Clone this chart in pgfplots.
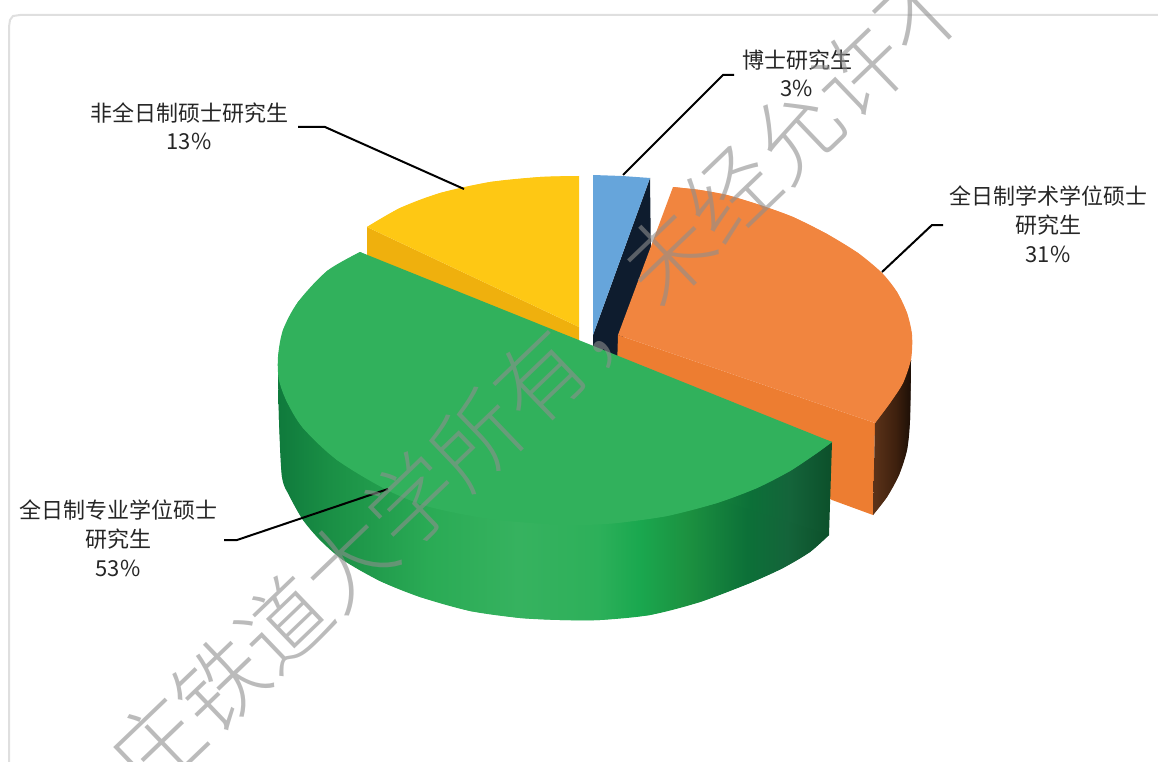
\documentclass[border=0pt]{standalone}
\usepackage{pgfplots}
\pgfplotsset{compat=1.18}
\usepackage{fontspec}
\setmainfont{Noto Sans CJK SC}
\newfontfamily\wm{Noto Sans CJK SC Light}
\definecolor{lbl}{HTML}{262626}
\definecolor{gtop}{HTML}{31B15C}
\definecolor{ytop}{HTML}{FEC814}
\definecolor{yside}{HTML}{EFB00D}
\definecolor{otop}{HTML}{F1853F}
\definecolor{oside}{HTML}{ED7D31}
\definecolor{btop}{HTML}{66A5DB}
\definecolor{bside}{HTML}{0E1C2E}
\definecolor{frame}{HTML}{DFDFDF}
\definecolor{wmc}{HTML}{8E8E8E}
\definecolor{ga}{HTML}{0F7A3C}
\definecolor{gb}{HTML}{1A8F45}
\definecolor{gc}{HTML}{2AAB55}
\definecolor{gd}{HTML}{36B25F}
\definecolor{ge}{HTML}{2DB05A}
\definecolor{gf}{HTML}{1AA84F}
\definecolor{gg}{HTML}{1C9140}
\definecolor{gh}{HTML}{0C7038}
\definecolor{gi}{HTML}{14643A}
\definecolor{gj}{HTML}{0C4F2A}
\definecolor{ba}{HTML}{5C3319}
\definecolor{bb}{HTML}{3E200E}
\definecolor{bc}{HTML}{1C0F06}
\pgfdeclarehorizontalshading{greenside}{100bp}{
 color(0bp)=(ga);
 color(25bp)=(ga);
 color(29.7bp)=(gb);
 color(38.7bp)=(gc);
 color(46.8bp)=(gd);
 color(54bp)=(ge);
 color(57.7bp)=(gf);
 color(62.2bp)=(gg);
 color(67.6bp)=(gh);
 color(71.2bp)=(gi);
 color(75bp)=(gj);
 color(100bp)=(gj)}
\pgfdeclarehorizontalshading{brownside}{100bp}{
 color(0bp)=(ba);
 color(25bp)=(ba);
 color(55bp)=(bb);
 color(75bp)=(bc);
 color(100bp)=(bc)}
\newcommand{\lab}[3]{\node[text=lbl,font=\fontsize{22}{26}\selectfont,inner sep=0pt,anchor=center] at (axis cs:#1,#2) {#3};}
\begin{document}
\begin{tikzpicture}
\begin{axis}[at={(0,0)},anchor=south west,scale only axis,width=1158pt,height=762pt,
 xmin=0,xmax=1158,ymin=0,ymax=762,y dir=reverse,hide axis]
% frame
\addplot[frame,line width=2pt,forget plot] coordinates {(1158,15) (20,15) (13,16) (10,20) (9,27) (9,762)};
% yellow
\addplot[draw=none,fill=yside,forget plot] coordinates {(367,227) (579,327) (579,362) (367,262)};
\addplot[draw=none,fill=ytop,forget plot] coordinates {(367,227) (400,208) (440,193) (490,182) (540,177) (579,176) (579,327)};
\addplot[draw=none,fill=ytop,smooth,forget plot] coordinates {(367,227) (400,208) (440,193) (490,182) (540,177) (579,176)};
% blue
\addplot[draw=none,fill=bside,forget plot] coordinates {(650,178) (651,260) (620,345) (615,370) (593,365) (593,335)};
\addplot[draw=none,fill=btop,forget plot] coordinates {(593,175) (622,176) (650,178) (593,335)};
% orange
\addplot[draw=none,fill=oside,forget plot] coordinates {(618,335) (875,423) (873,515) (832,500) (617,368)};
\addplot[draw=none,shading=brownside,forget plot] coordinates {(875,423) (911,360) (910,420) (907,450) (899,475) (887,497) (873,515)};
\addplot[draw=none,shading=brownside,smooth,forget plot] coordinates {(911,360) (910,420) (907,450) (899,475) (887,497) (873,515)};
\addplot[draw=none,fill=otop,forget plot] coordinates {(618,335) (673,187) (700,190) (727,195) (760,205) (793,217) (827,234) (858,253) (882,273) (897,292) (907,313) (912,335) (911,359) (903,383) (890,403) (875,423)};
\addplot[draw=none,fill=otop,smooth,forget plot] coordinates {(673,187) (700,190) (727,195) (760,205) (793,217) (827,234) (858,253) (882,273) (897,292) (907,313) (912,335) (911,359) (903,383) (890,403) (875,423)};
% green
\addplot[draw=none,shading=greenside,forget plot] coordinates {(278,360) (279,420) (282,477) (290,497) (303,520) (320,540) (343,560) (380,581) (420,597) (470,611) (520,618) (560,620) (600,620) (650,615) (700,602) (750,583) (783,568) (810,552) (829,535) (832,442)};
\addplot[draw=none,shading=greenside,smooth,forget plot] coordinates {(278,360) (279,420) (282,477) (290,497) (303,520) (320,540) (343,560) (380,581) (420,597) (470,611) (520,618) (560,620) (600,620) (650,615) (700,602) (750,583) (783,568) (810,552) (829,535)};
\addplot[draw=none,fill=gtop,forget plot] coordinates {(360,252) (327,271) (298,302) (283,330) (278,357) (279,380) (287,402) (303,428) (337,460) (387,490) (430,507) (490,519) (550,524) (583,525) (617,523) (667,516) (717,503) (757,488) (790,471) (817,453) (832,442) (590,361)};
\addplot[draw=none,fill=gtop,smooth,forget plot] coordinates {(360,252) (327,271) (298,302) (283,330) (278,357) (279,380) (287,402) (303,428) (337,460) (387,490) (430,507) (490,519) (550,524) (583,525) (617,523) (667,516) (717,503) (757,488) (790,471) (817,453) (832,442)};
% leaders
\addplot[black,line width=2pt,forget plot] coordinates {(623,175) (723,75) (734,75)};
\addplot[black,line width=2pt,forget plot] coordinates {(882,272) (932,225) (943,225)};
\addplot[black,line width=2pt,forget plot] coordinates {(464,189) (325,127) (298,127)};
\addplot[black,line width=2pt,forget plot] coordinates {(388,489) (237,540) (224,540)};
% labels
\lab{797}{60}{博士研究生}
\lab{797}{88}{3\%}
\lab{189}{113}{非全日制硕士研究生}
\lab{189}{141}{13\%}
\lab{1048}{196}{全日制学术学位硕士}
\lab{1048}{225}{研究生}
\lab{1048}{254}{31\%}
\lab{118}{510}{全日制专业学位硕士}
\lab{118}{539}{研究生}
\lab{118}{568}{53\%}
% watermark
\node[rotate=43.8,text=wmc,text opacity=0.6,inner sep=0pt,font=\wm\fontsize{88.6}{90}\selectfont] at (axis cs:540,378) {庄铁道大学所有，未经允许不};
\end{axis}
\pgfresetboundingbox
\useasboundingbox (0,0) rectangle (1158pt,762pt);
\end{tikzpicture}
\end{document}
